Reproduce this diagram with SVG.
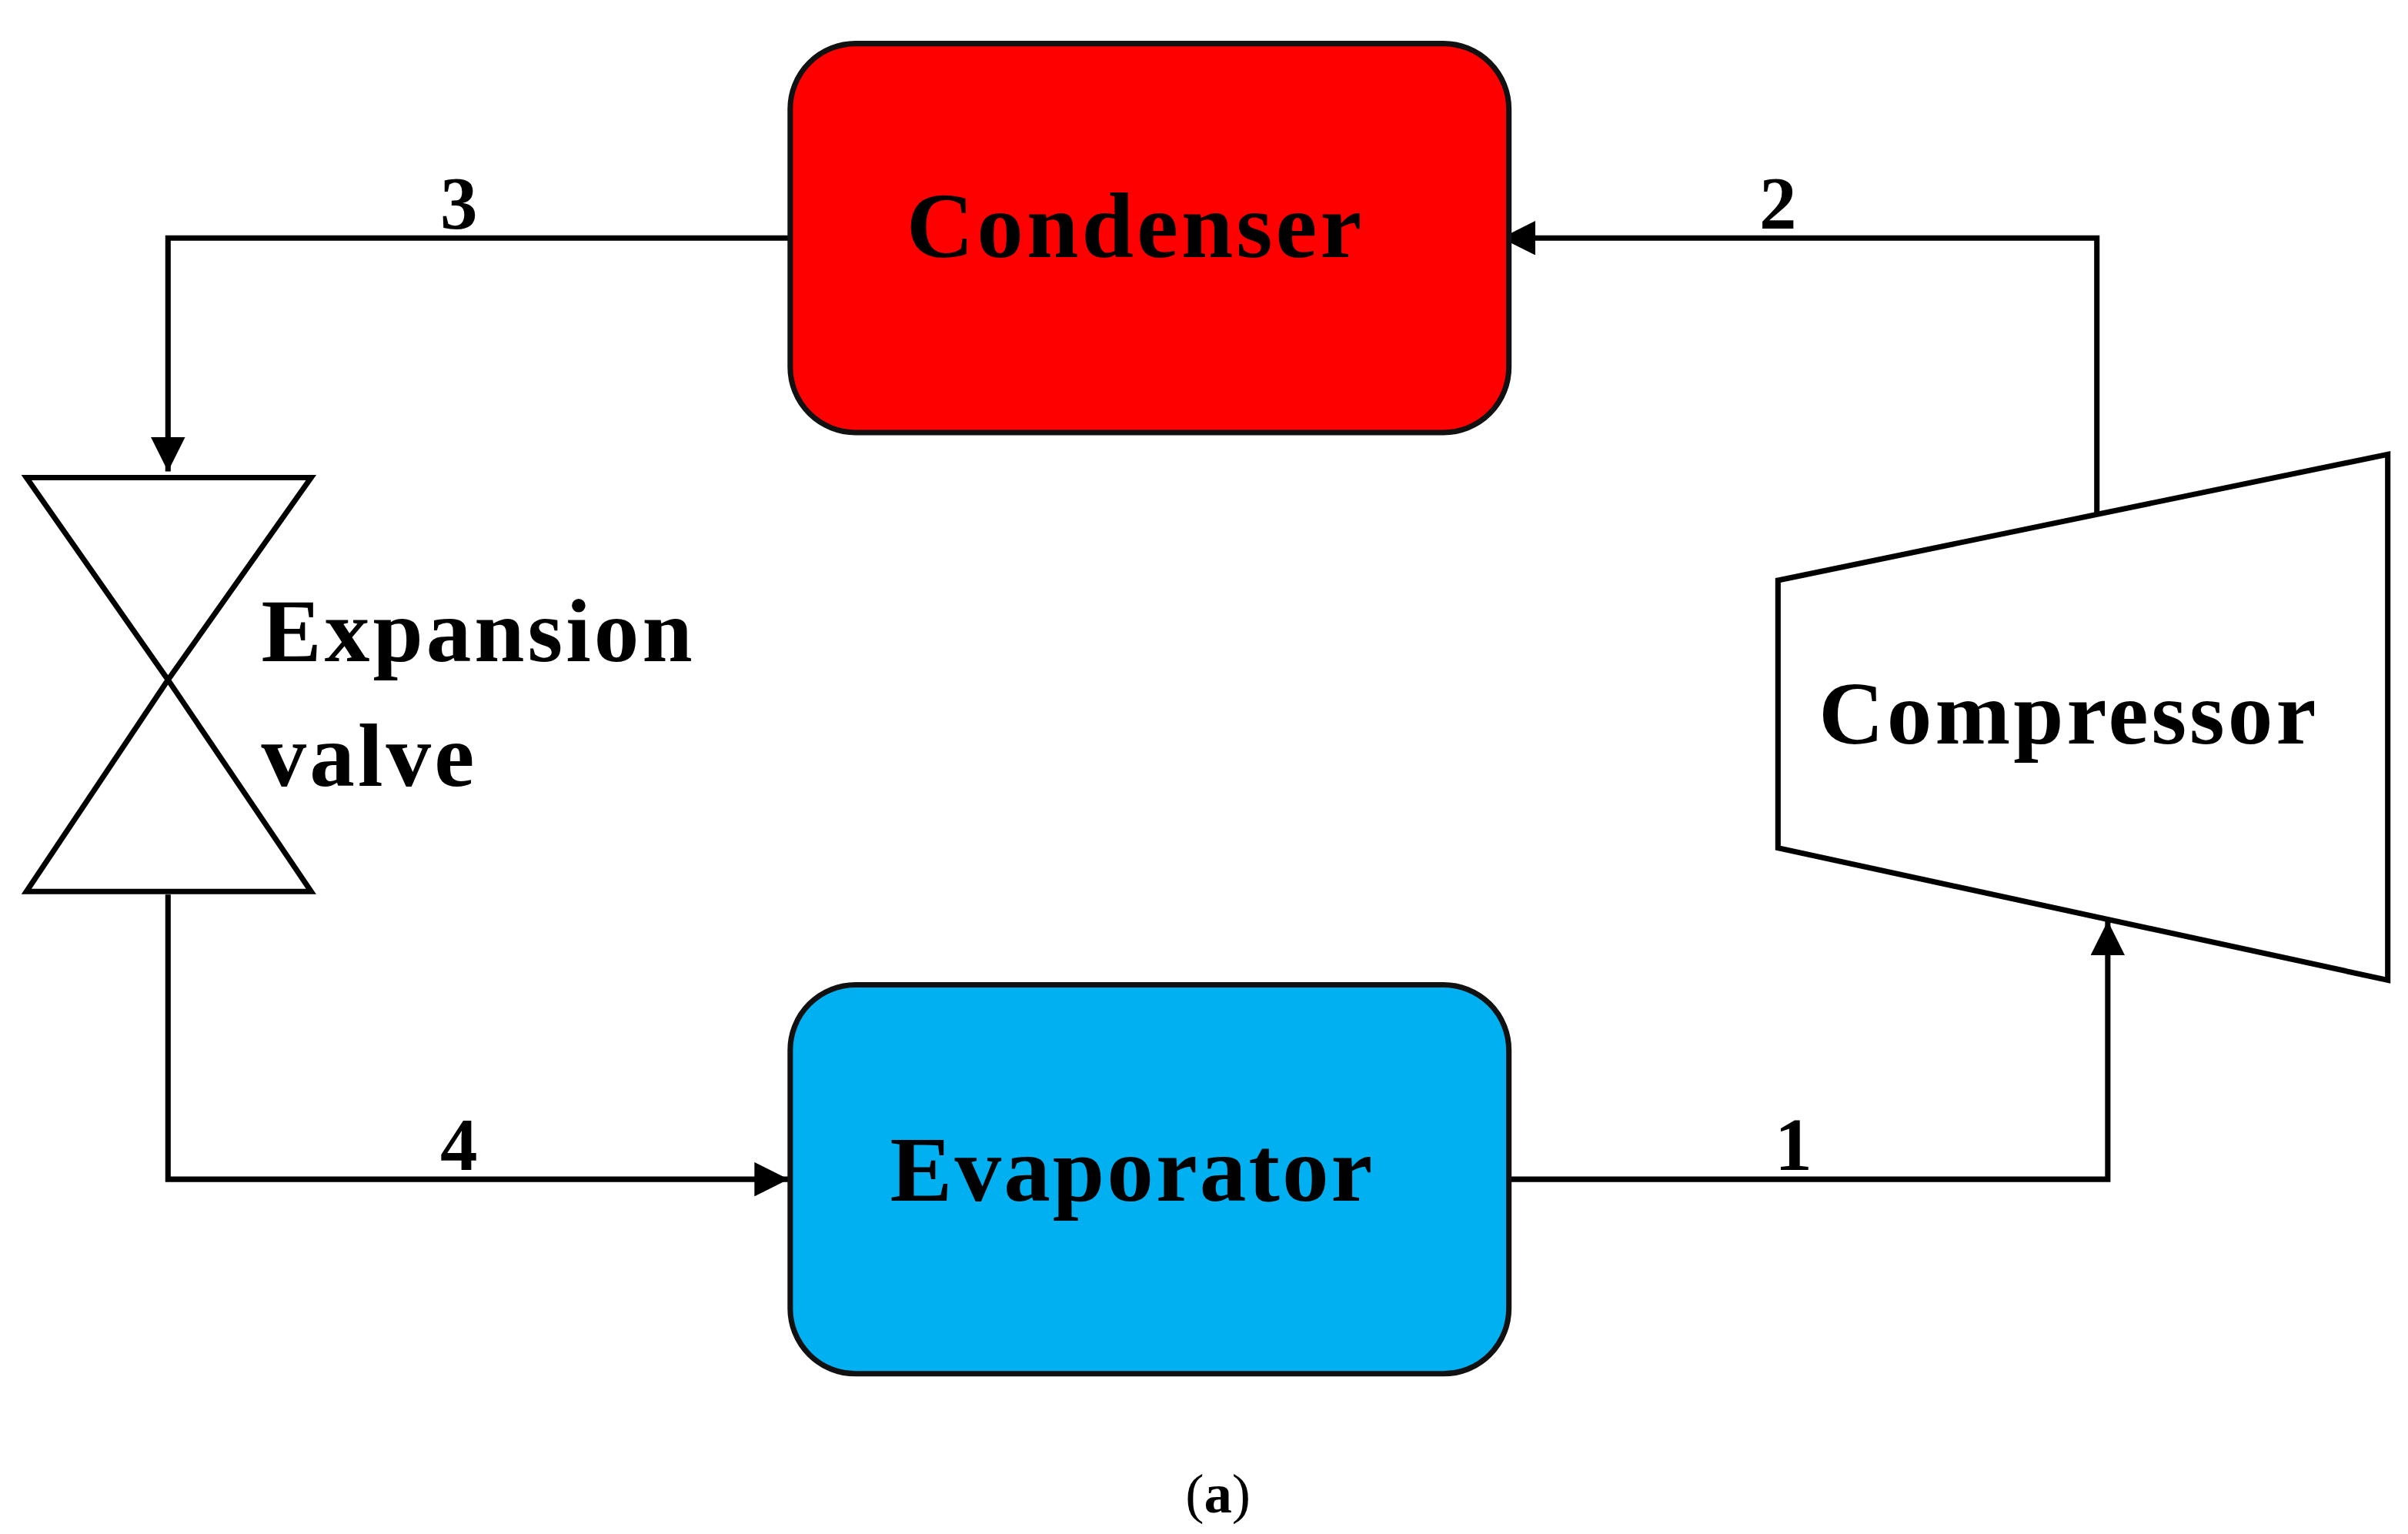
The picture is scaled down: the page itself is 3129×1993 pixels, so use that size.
<svg xmlns="http://www.w3.org/2000/svg" width="3129" height="1993" viewBox="0 0 3129 1993">
<style>
.b{stroke:#000;stroke-width:3.5;fill:none}
.n{stroke:#111;stroke-width:3.5}
.t{font-family:"Liberation Serif",serif;font-weight:bold;fill:#000}
</style>
<defs>
<marker id="m" viewBox="0 0 10 10" refX="10" refY="5" markerWidth="24" markerHeight="22" orient="auto" markerUnits="userSpaceOnUse"><path d="M0,0L10,5L0,10z"/></marker></defs>
<rect width="3129" height="1993" fill="#fff"/>
<g transform="scale(2.0213)">
<g id="connectors">
<path class="b" d="M508,153H108V303" marker-end="url(#m)"/>
<path class="b" d="M108,575V758H507" marker-end="url(#m)"/>
<path class="b" d="M970,758H1355V592" marker-end="url(#m)"/>
<path class="b" d="M1348,330V153H965" marker-end="url(#m)"/>
<text class="t" x="295" y="147" font-size="48" text-anchor="middle">3</text>
<text class="t" x="1143" y="147" font-size="48" text-anchor="middle">2</text>
<text class="t" x="295" y="752" font-size="48" text-anchor="middle">4</text>
<text class="t" x="1153" y="752" font-size="48" text-anchor="middle">1</text>
</g>
<g id="condenser"><rect class="n" x="508" y="28" width="462" height="250" rx="42" fill="#ff0000"/>
<text class="t" x="730" y="165" font-size="60" letter-spacing="2" text-anchor="middle">Condenser</text></g>
<g id="evaporator"><rect class="n" x="508" y="633" width="462" height="250" rx="42" fill="#00b0f0"/>
<text class="t" x="728" y="772" font-size="60" letter-spacing="1.5" text-anchor="middle">Evaporator</text></g>
<g id="valve"><path class="b" d="M17,307H200L108,437ZM108,437L17,573H200Z" stroke-width="4"/>
<text class="t" x="168" y="425" font-size="58" letter-spacing="2">Expansion</text>
<text class="t" x="168" y="505" font-size="58" letter-spacing="2">valve</text></g>
<g id="compressor"><path class="b" d="M1143,373L1535,292V630L1143,545Z" stroke-width="4"/>
<text class="t" x="1330" y="478" font-size="58" letter-spacing="2" text-anchor="middle">Compressor</text></g>
<text x="783" y="972" font-size="36" text-anchor="middle" font-family="Liberation Serif,serif">(<tspan font-weight="bold">a</tspan>)</text>
</g>
</svg>
